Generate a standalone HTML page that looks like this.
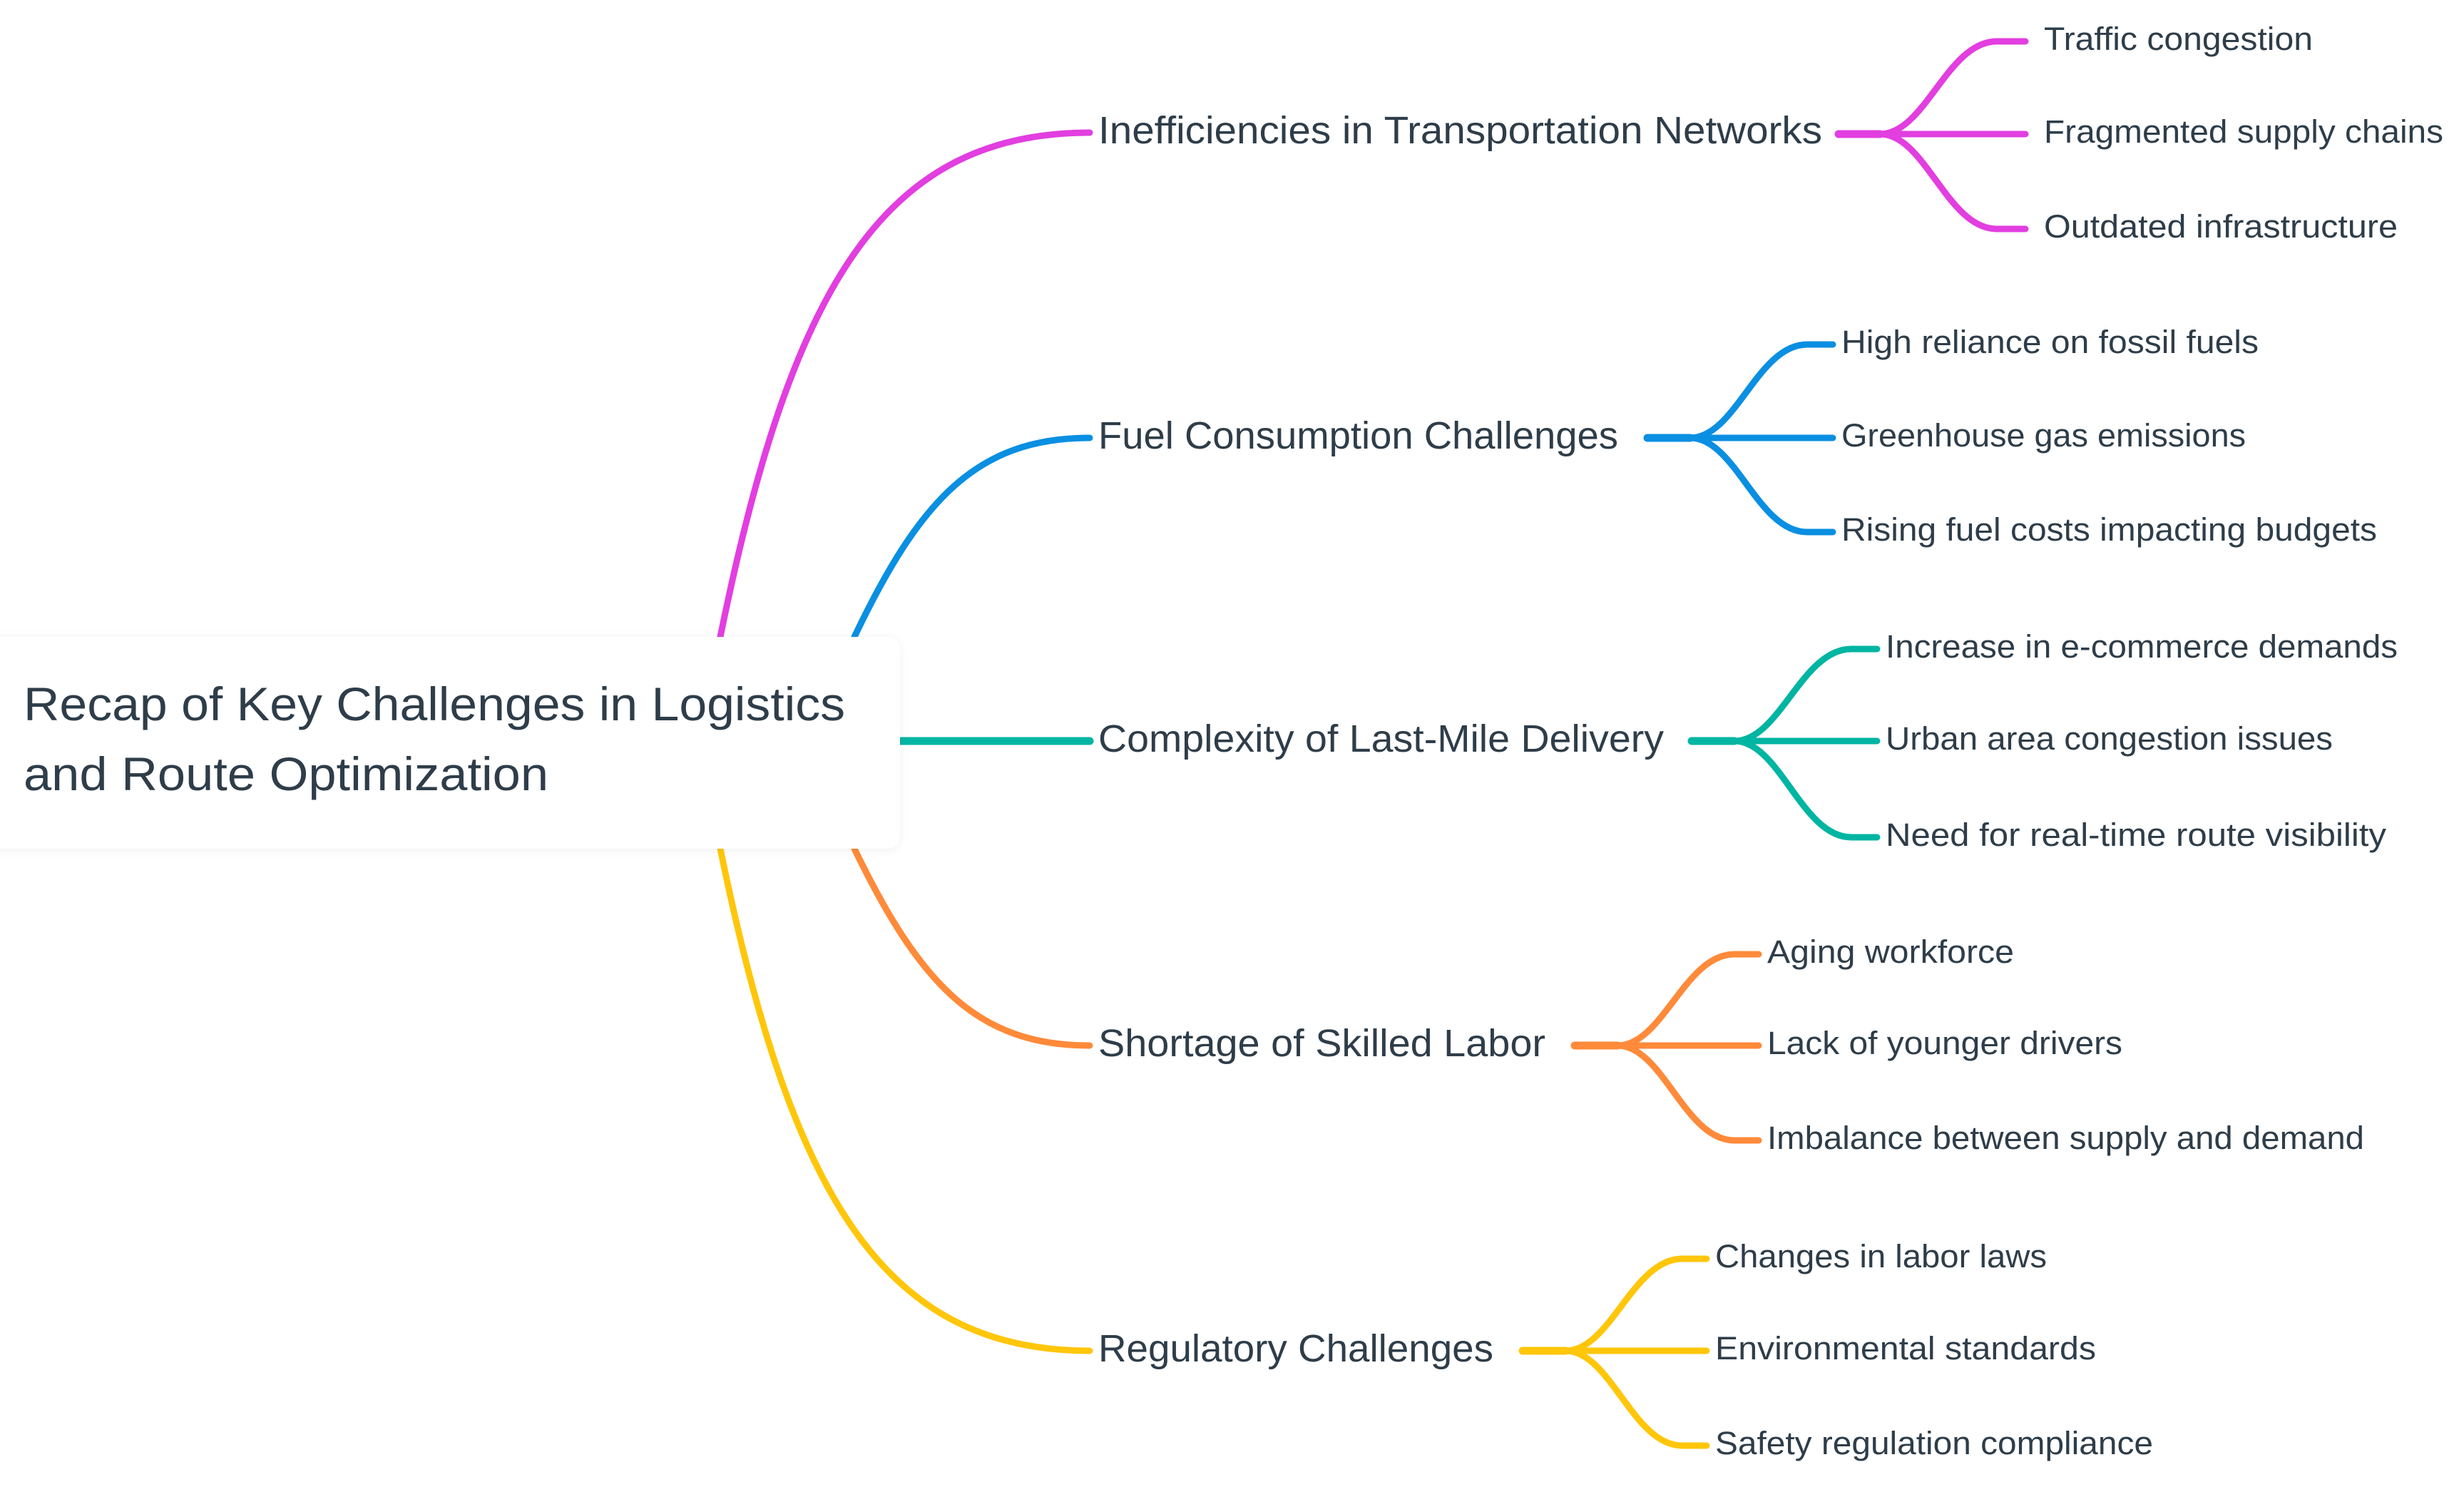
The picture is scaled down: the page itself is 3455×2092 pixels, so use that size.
<!DOCTYPE html>
<html><head><meta charset="utf-8"><style>
html,body{margin:0;padding:0;background:#fff;}
svg{display:block;}
text{font-family:"Liberation Sans",sans-serif;fill:#2e3d49;}
</style></head><body>
<svg width="3455" height="2092" viewBox="0 0 3455 2092" xmlns="http://www.w3.org/2000/svg">
<defs>
<filter id="sh" x="-5%" y="-10%" width="110%" height="120%"><feDropShadow dx="0" dy="2" stdDeviation="6" flood-color="#000" flood-opacity="0.06"/></filter>
</defs>
<g fill="none" stroke-linecap="round" stroke-width="9">
<path d="M1010 893 C1110 400 1240 186 1528 186" stroke="#e23ee0"/>
<path d="M1198 893 C1290 700 1370 614 1528 614" stroke="#0a8fe2"/>
<path d="M1262 1039 L1528 1039" stroke="#00b5a2" stroke-width="11"/>
<path d="M1198 1190 C1290 1380 1370 1466 1528 1466" stroke="#ff8a3a"/>
<path d="M1010 1190 C1110 1680 1240 1894 1528 1894" stroke="#ffc60a"/>

<g stroke="#e23ee0">
<path d="M2578 188 L2636 188" stroke-width="11"/>
<path d="M2636 188 C2700 188 2730 58 2800 58 L2840 58"/>
<path d="M2636 188 L2840 188"/>
<path d="M2636 188 C2700 188 2730 321 2800 321 L2840 321"/>
</g>
<g stroke="#0a8fe2">
<path d="M2310 614 L2370 614" stroke-width="11"/>
<path d="M2370 614 C2434 614 2464 483 2534 483 L2570 483"/>
<path d="M2370 614 L2570 614"/>
<path d="M2370 614 C2434 614 2464 746 2534 746 L2570 746"/>
</g>
<g stroke="#00b5a2">
<path d="M2372 1039 L2432 1039" stroke-width="11"/>
<path d="M2432 1039 C2496 1039 2526 910 2596 910 L2632 910"/>
<path d="M2432 1039 L2632 1039"/>
<path d="M2432 1039 C2496 1039 2526 1174 2596 1174 L2632 1174"/>
</g>
<g stroke="#ff8a3a">
<path d="M2208 1466 L2268 1466" stroke-width="11"/>
<path d="M2268 1466 C2332 1466 2362 1338 2432 1338 L2466 1338"/>
<path d="M2268 1466 L2466 1466"/>
<path d="M2268 1466 C2332 1466 2362 1599 2432 1599 L2466 1599"/>
</g>
<g stroke="#ffc60a">
<path d="M2135 1894 L2195 1894" stroke-width="11"/>
<path d="M2195 1894 C2259 1894 2289 1765 2359 1765 L2393 1765"/>
<path d="M2195 1894 L2393 1894"/>
<path d="M2195 1894 C2259 1894 2289 2027 2359 2027 L2393 2027"/>
</g>
</g>

<rect x="-20" y="893" width="1282" height="297" rx="18" fill="#fff" filter="url(#sh)"/>
<text x="33" y="1010" font-size="66" textLength="1152" lengthAdjust="spacingAndGlyphs">Recap of Key Challenges in Logistics</text>
<text x="33" y="1108" font-size="66" textLength="736" lengthAdjust="spacingAndGlyphs">and Route Optimization</text>

<g font-size="54">
<text x="1540" y="201" textLength="1015" lengthAdjust="spacingAndGlyphs">Inefficiencies in Transportation Networks</text>
<text x="1540" y="629" textLength="729" lengthAdjust="spacingAndGlyphs">Fuel Consumption Challenges</text>
<text x="1540" y="1054" textLength="793" lengthAdjust="spacingAndGlyphs">Complexity of Last-Mile Delivery</text>
<text x="1540" y="1481" textLength="627" lengthAdjust="spacingAndGlyphs">Shortage of Skilled Labor</text>
<text x="1540" y="1909" textLength="554" lengthAdjust="spacingAndGlyphs">Regulatory Challenges</text>
</g>

<g font-size="45">
<text x="2866" y="70" textLength="377" lengthAdjust="spacingAndGlyphs">Traffic congestion</text>
<text x="2866" y="200" textLength="560" lengthAdjust="spacingAndGlyphs">Fragmented supply chains</text>
<text x="2866" y="333" textLength="496" lengthAdjust="spacingAndGlyphs">Outdated infrastructure</text>

<text x="2582" y="495" textLength="585" lengthAdjust="spacingAndGlyphs">High reliance on fossil fuels</text>
<text x="2582" y="626" textLength="567" lengthAdjust="spacingAndGlyphs">Greenhouse gas emissions</text>
<text x="2582" y="758" textLength="751" lengthAdjust="spacingAndGlyphs">Rising fuel costs impacting budgets</text>

<text x="2644" y="922" textLength="718" lengthAdjust="spacingAndGlyphs">Increase in e-commerce demands</text>
<text x="2644" y="1051" textLength="627" lengthAdjust="spacingAndGlyphs">Urban area congestion issues</text>
<text x="2644" y="1186" textLength="702" lengthAdjust="spacingAndGlyphs">Need for real-time route visibility</text>

<text x="2478" y="1350" textLength="346" lengthAdjust="spacingAndGlyphs">Aging workforce</text>
<text x="2478" y="1478" textLength="498" lengthAdjust="spacingAndGlyphs">Lack of younger drivers</text>
<text x="2478" y="1611" textLength="837" lengthAdjust="spacingAndGlyphs">Imbalance between supply and demand</text>

<text x="2405" y="1777" textLength="465" lengthAdjust="spacingAndGlyphs">Changes in labor laws</text>
<text x="2405" y="1906" textLength="534" lengthAdjust="spacingAndGlyphs">Environmental standards</text>
<text x="2405" y="2039" textLength="614" lengthAdjust="spacingAndGlyphs">Safety regulation compliance</text>
</g>
</svg>
</body></html>
